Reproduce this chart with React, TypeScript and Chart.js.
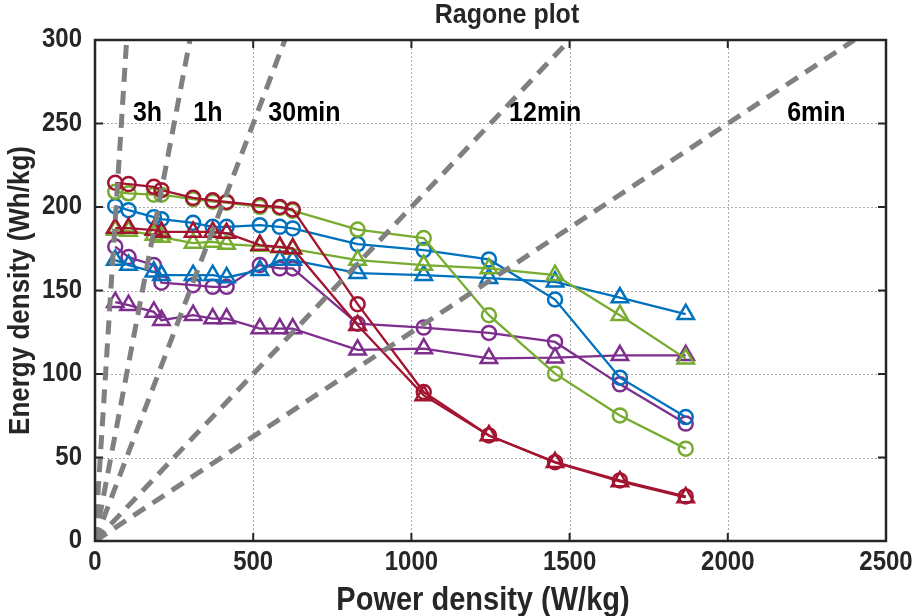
import { useEffect, useRef } from 'react';
import { Chart, registerables } from 'chart.js';

Chart.register(...registerables);

// ---- Data ----
const powerDensity = [64, 106, 186, 210, 310, 372, 416, 521, 584, 625, 830, 1039, 1245, 1454, 1659, 1867];

const redCircle = [214.5, 213.7, 212.1, 210.1, 205.5, 204, 203, 201, 200, 198.5, 141.8, 89.2, 63.2, 47.2, 36.3, 26.7];
const redTriangle = [187.4, 187.4, 186.2, 185.1, 185.1, 185.1, 184.4, 177.2, 176.1, 175.2, 129.2, 87.2, 63.2, 47.1, 35.7, 26.1];
const greenCircle = [209.1, 208.2, 207.4, 207.4, 204.7, 203.2, 202.6, 200.1, 199.5, 197.8, 186.5, 181.4, 135.2, 100.2, 75.2, 55.3];
const greenTriangle = [186.2, 185.7, 183.2, 182, 178.4, 179.1, 177.8, 176.6, 175.8, 174.8, 168.2, 165.2, 163.2, 159.2, 135.2, 109.2];
const blueCircle = [200.5, 198.1, 193.9, 192.7, 190.5, 188.1, 188.1, 189.1, 188.1, 187.2, 177.8, 174.2, 168.6, 144.6, 97.8, 74.2];
const blueTriangle = [168.2, 165.2, 161.2, 159.2, 159.2, 159.2, 157.8, 162.2, 168.2, 168.2, 160.4, 159.2, 157.4, 155.2, 145.8, 135.8];
const purpleCircle = [176.3, 170, 165.2, 154.7, 153.2, 152.2, 152.2, 165.2, 163.2, 163.2, 130.1, 127.8, 124.6, 119.2, 93.8, 70.3];
const purpleTriangle = [143, 141.2, 137.2, 132.2, 135.2, 133.2, 133.2, 127.2, 127.2, 127.2, 114.5, 115.2, 109.4, 109.8, 111.2, 111.2];

// Constant-discharge-time guide lines: from origin to these end points
const guideNames = ['3h', '1h', '30min', '12min', '6min'];
const guideEndPower = [100, 300, 600, 1500, 2400];
const guideEndEnergy = [300, 300, 300, 300, 300];
const guideLabelPower = [166, 357, 662, 1423, 2280];
const guideLabelEnergy = [256, 256, 256, 256, 256];

const xTickValues = [0, 500, 1000, 1500, 2000, 2500];
const yTickValues = [0, 50, 100, 150, 200, 250, 300];

const chartTitle = 'Ragone plot';
const xTitle = 'Power density (W/kg)';
const yTitle = 'Energy density (Wh/kg)';

const RED = '#A2142F';
const GREEN = '#77AC30';
const BLUE = '#0072BD';
const PURPLE = '#7E2F8E';
const FONT = '"Liberation Sans", Arial, Helvetica, sans-serif';
const TEXT = '#262626';
const STRETCH = 1.13;

function series(values: number[]) {
  return values.map((v, i) => ({ x: powerDensity[i], y: v }));
}

function dataSet(label: string, values: number[], color: string, style: 'circle' | 'triangle') {
  return {
    label,
    data: series(values),
    borderColor: color,
    backgroundColor: 'rgba(0,0,0,0)',
    borderWidth: 2.3,
    pointStyle: style,
    pointRadius: style === 'circle' ? 7 : 9.5,
    pointBorderWidth: 2.5,
    pointBorderColor: color,
    pointBackgroundColor: 'rgba(0,0,0,0)',
    showLine: true,
    fill: false,
    tension: 0,
    order: 1,
  };
}

function stretchedText(ctx: CanvasRenderingContext2D, text: string, x: number, y: number, rotate = false) {
  ctx.save();
  ctx.translate(x, y);
  if (rotate) {
    ctx.rotate(-Math.PI / 2);
  }
  ctx.scale(1, STRETCH);
  ctx.fillText(text, 0, 0);
  ctx.restore();
}

const framePlugin = {
  id: 'framePlugin',
  beforeDatasetsDraw(chart: any) {
    const { ctx, chartArea: a, scales } = chart;
    ctx.save();
    ctx.strokeStyle = '#ababab';
    ctx.lineWidth = 1;
    ctx.setLineDash([2, 2]);
    for (const v of xTickValues) {
      const px = Math.round(scales.x.getPixelForValue(v)) + 0.5;
      ctx.beginPath();
      ctx.moveTo(px, a.top);
      ctx.lineTo(px, a.bottom);
      ctx.stroke();
    }
    for (const v of yTickValues) {
      const py = Math.round(scales.y.getPixelForValue(v)) + 0.5;
      ctx.beginPath();
      ctx.moveTo(a.left, py);
      ctx.lineTo(a.right, py);
      ctx.stroke();
    }
    ctx.restore();
  },
  afterDatasetsDraw(chart: any) {
    const { ctx, chartArea: a, scales } = chart;
    ctx.save();
    ctx.setLineDash([]);
    ctx.strokeStyle = TEXT;
    ctx.lineWidth = 2.5;
    ctx.strokeRect(a.left, a.top, a.right - a.left, a.bottom - a.top);
    ctx.lineWidth = 2;
    const tl = 8;
    for (const v of xTickValues) {
      const px = scales.x.getPixelForValue(v);
      ctx.beginPath();
      ctx.moveTo(px, a.bottom);
      ctx.lineTo(px, a.bottom - tl);
      ctx.moveTo(px, a.top);
      ctx.lineTo(px, a.top + tl);
      ctx.stroke();
    }
    for (const v of yTickValues) {
      const py = scales.y.getPixelForValue(v);
      ctx.beginPath();
      ctx.moveTo(a.left, py);
      ctx.lineTo(a.left + tl, py);
      ctx.moveTo(a.right, py);
      ctx.lineTo(a.right - tl, py);
      ctx.stroke();
    }
    ctx.restore();
  },
  afterDraw(chart: any) {
    const { ctx, chartArea: a, scales } = chart;
    ctx.save();
    ctx.textBaseline = 'middle';
    // tick labels
    ctx.fillStyle = TEXT;
    ctx.font = `bold 24px ${FONT}`;
    ctx.textAlign = 'center';
    for (const v of xTickValues) {
      stretchedText(ctx, String(v), scales.x.getPixelForValue(v), 563);
    }
    ctx.textAlign = 'right';
    for (const v of yTickValues) {
      stretchedText(ctx, String(v), 82, scales.y.getPixelForValue(v));
    }
    ctx.textAlign = 'center';
    // guide labels
    ctx.fillStyle = '#000000';
    ctx.font = `bold 25px ${FONT}`;
    guideNames.forEach((n, i) => {
      stretchedText(ctx, n, scales.x.getPixelForValue(guideLabelPower[i]), scales.y.getPixelForValue(guideLabelEnergy[i]));
    });
    // title
    ctx.fillStyle = TEXT;
    ctx.font = `bold 25px ${FONT}`;
    stretchedText(ctx, chartTitle, 507, 15);
    // x title
    ctx.font = `bold 29px ${FONT}`;
    stretchedText(ctx, xTitle, 483, 601);
    // y title
    ctx.font = `bold 26px ${FONT}`;
    stretchedText(ctx, yTitle, 21, (a.top + a.bottom) / 2, true);
    ctx.restore();
  },
};

export default function App() {
  const canvasRef = useRef<HTMLCanvasElement | null>(null);

  useEffect(() => {
    if (!canvasRef.current) return;
    const guideSets = guideNames.map((n, i) => ({
      label: n,
      data: [
        { x: 0, y: 0 },
        { x: guideEndPower[i], y: guideEndEnergy[i] },
      ],
      borderColor: '#808080',
      borderWidth: 5,
      borderDash: [14, 9],
      borderCapStyle: 'butt',
      pointRadius: 0,
      showLine: true,
      fill: false,
      clip: 0,
      order: 0,
    }));

    const chart = new Chart(canvasRef.current, {
      type: 'scatter',
      data: {
        datasets: [
          ...guideSets,
          dataSet('Red circle', redCircle, RED, 'circle'),
          dataSet('Red triangle', redTriangle, RED, 'triangle'),
          dataSet('Green circle', greenCircle, GREEN, 'circle'),
          dataSet('Green triangle', greenTriangle, GREEN, 'triangle'),
          dataSet('Blue circle', blueCircle, BLUE, 'circle'),
          dataSet('Blue triangle', blueTriangle, BLUE, 'triangle'),
          dataSet('Purple circle', purpleCircle, PURPLE, 'circle'),
          dataSet('Purple triangle', purpleTriangle, PURPLE, 'triangle'),
        ] as any,
      },
      options: {
        animation: false,
        responsive: false,
        devicePixelRatio: 1,
        layout: { padding: { left: 0, right: 29, top: 40, bottom: 0 } },
        plugins: {
          legend: { display: false },
          tooltip: { enabled: false },
          title: { display: false },
        },
        scales: {
          x: {
            type: 'linear',
            min: 0,
            max: 2500,
            afterBuildTicks: (s: any) => {
              s.ticks = xTickValues.map((v) => ({ value: v }));
            },
            grid: { display: false, drawTicks: false },
            border: { display: false },
            ticks: { display: false },
            afterFit: (s: any) => {
              s.height = 75;
              s.paddingLeft = 0;
              s.paddingRight = 0;
            },
          },
          y: {
            type: 'linear',
            min: 0,
            max: 300,
            afterBuildTicks: (s: any) => {
              s.ticks = yTickValues.map((v) => ({ value: v }));
            },
            grid: { display: false, drawTicks: false },
            border: { display: false },
            ticks: { display: false },
            afterFit: (s: any) => {
              s.width = 95;
              s.paddingTop = 0;
              s.paddingBottom = 0;
            },
          },
        },
      } as any,
      plugins: [framePlugin],
    });
    return () => chart.destroy();
  }, []);

  return (
    <div style={{ position: 'absolute', left: 0, top: 0, width: 915, height: 616, background: '#ffffff' }}>
      <canvas ref={canvasRef} width={915} height={616} style={{ display: 'block' }} />
    </div>
  );
}
